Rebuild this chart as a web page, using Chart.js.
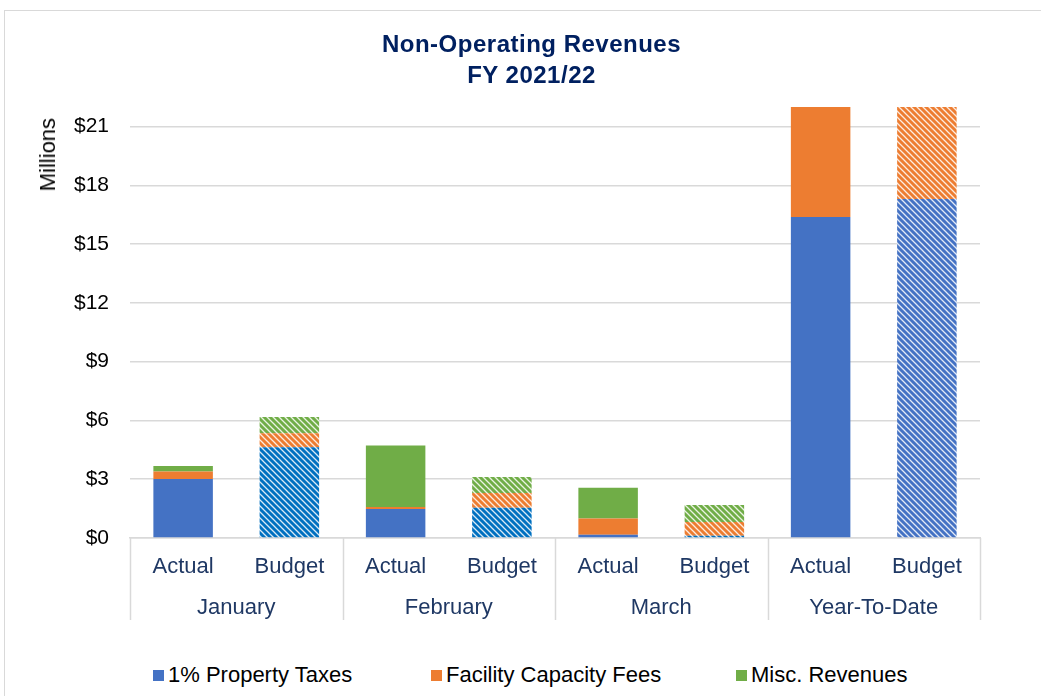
<!DOCTYPE html>
<html lang="en">
<head>
<meta charset="UTF-8">
<title>Non-Operating Revenues FY 2021/22</title>
<script src="https://cdn.jsdelivr.net/npm/chart.js@4"></script>
<style>
  * { box-sizing: border-box; margin: 0; padding: 0; }
  html, body { width: 1041px; height: 696px; overflow: hidden; background: #fff; font-family: 'Liberation Sans', Arial, sans-serif; }
  .frame { position: absolute; left: 4px; top: 10px; width: 1055px; height: 700px; border: 1px solid #d9d9d9; }
  .wrap { position: absolute; left: 0; top: 0; width: 1053px; height: 630px; }
  .title { position: absolute; left: 0; top: 17px; width: 1053px; text-align: center; color: #002060;
           font-weight: bold; font-size: 24px; line-height: 31px; letter-spacing: 0.5px; }
  .unit { position: absolute; left: 31px; top: 107px; width: 24px; line-height: 24px; font-size: 22px; color: #000;
          writing-mode: vertical-rl; transform: rotate(180deg); white-space: nowrap; }
  .legend { position: absolute; top: 653px; left: 0; width: 1053px; font-size: 22px; line-height: 22px; color: #000; }
  .legend span.item { position: absolute; top: 0; white-space: nowrap; }
  .legend i { display: inline-block; width: 11px; height: 11px; margin-right: 4px; vertical-align: 1px; }
</style>
</head>
<body>
<div class="frame">
  <div class="wrap"><canvas id="chart"></canvas></div>
  <div class="title">Non-Operating Revenues<br>FY 2021/22</div>
  <div class="unit">Millions</div>
  <div class="legend" id="legend"></div>
</div>
<script>
// ── Data (millions) ─────────────────────────────────────────────────────────
const barLabels = ['Actual', 'Budget', 'Actual', 'Budget', 'Actual', 'Budget', 'Actual', 'Budget'];
const groupLabels = ['January', 'February', 'March', 'Year-To-Date'];
const propertyTaxes = [3.01, 4.63, 1.48, 1.55, 0.17, 0.12, 16.39, 17.30];
const facilityFees = [0.38, 0.72, 0.10, 0.75, 0.82, 0.70, 6.50, 5.90];
const miscRevenues = [0.29, 0.83, 3.14, 0.82, 1.58, 0.87, 5.00, 2.50];
const yTicks = [0, 3, 6, 9, 12, 15, 18, 21];
const seriesNames = ['1% Property Taxes', 'Facility Capacity Fees', 'Misc. Revenues'];

const BLUE = '#4472c4', ORANGE = '#ed7d31', GREEN = '#70ad47', BUDGET_BLUE = '#0070c0';
const LABEL = '#1f3864', GRID = '#d9d9d9';
const FONT = '"Liberation Sans", Arial, sans-serif';

// diagonal white stripes for the budget bars
function stripes(color) {
  const c = document.createElement('canvas');
  c.width = 6; c.height = 6;
  const g = c.getContext('2d');
  g.fillStyle = color;
  g.fillRect(0, 0, 6, 6);
  g.strokeStyle = 'rgba(255,255,255,0.85)';
  g.lineWidth = 1.3;
  g.beginPath();
  g.moveTo(-1, -1); g.lineTo(7, 7);
  g.moveTo(-1, 5); g.lineTo(1, 7);
  g.moveTo(5, -1); g.lineTo(7, 1);
  g.stroke();
  return g.createPattern(c, 'repeat');
}

function fills(solid, budget, ytdBudget) {
  return barLabels.map((l, i) => {
    if (l === 'Actual') return solid;
    return i === barLabels.length - 1 ? stripes(ytdBudget) : stripes(budget);
  });
}

// month names + group separators below the axis
const groupAxis = {
  id: 'groupAxis',
  afterDraw(chart) {
    const { ctx, scales: { x }, chartArea } = chart;
    const half = (x.getPixelForValue(1) - x.getPixelForValue(0)) / 2;
    ctx.save();
    ctx.strokeStyle = GRID;
    ctx.lineWidth = 1.5;
    for (let g = 0; g <= groupLabels.length; g++) {
      const px = g < groupLabels.length ? x.getPixelForValue(g * 2) - half : x.getPixelForValue(g * 2 - 1) + half;
      ctx.beginPath();
      ctx.moveTo(Math.round(px) + 0.5, chartArea.bottom);
      ctx.lineTo(Math.round(px) + 0.5, chartArea.bottom + 82);
      ctx.stroke();
    }
    ctx.fillStyle = LABEL;
    ctx.font = '22px ' + FONT;
    ctx.textAlign = 'center';
    ctx.textBaseline = 'middle';
    groupLabels.forEach((name, g) => {
      const cx = (x.getPixelForValue(g * 2) + x.getPixelForValue(g * 2 + 1)) / 2;
      ctx.fillText(name, cx, chartArea.bottom + 70);
    });
    ctx.restore();
  }
};

new Chart(document.getElementById('chart'), {
  type: 'bar',
  data: {
    labels: barLabels,
    datasets: [
      { label: seriesNames[0], data: propertyTaxes, backgroundColor: fills(BLUE, BUDGET_BLUE, BLUE) },
      { label: seriesNames[1], data: facilityFees, backgroundColor: fills(ORANGE, ORANGE, ORANGE) },
      { label: seriesNames[2], data: miscRevenues, backgroundColor: fills(GREEN, GREEN, GREEN) }
    ]
  },
  options: {
    responsive: true,
    maintainAspectRatio: false,
    animation: false,
    layout: { padding: { left: 0, right: 78, top: 96, bottom: 0 } },
    datasets: { bar: { barPercentage: 0.56, categoryPercentage: 1, borderWidth: 0 } },
    plugins: {
      legend: { display: false },
      tooltip: { enabled: false },
      title: { display: false }
    },
    scales: {
      x: {
        stacked: true,
        grid: { display: false },
        border: { display: true, color: GRID, width: 1.5 },
        ticks: { color: LABEL, padding: 8, maxRotation: 0, font: { family: FONT, size: 22 } },
        afterFit(s) { s.height = 103; }
      },
      y: {
        stacked: true,
        min: 0,
        max: 22,
        afterBuildTicks(s) { s.ticks = yTicks.map(v => ({ value: v })); },
        grid: { color: GRID, lineWidth: 1.5, drawTicks: false },
        border: { display: false },
        ticks: {
          color: '#000',
          padding: 21,
          font: { family: FONT, size: 21 },
          callback: v => '$' + v
        },
        afterFit(s) { s.width = 125; }
      }
    }
  },
  plugins: [groupAxis]
});

// legend as real text
const legendColors = [BLUE, ORANGE, GREEN];
const legendLeft = [148, 426, 731];
document.getElementById('legend').innerHTML = seriesNames.map((n, i) =>
  `<span class="item" style="left:${legendLeft[i]}px"><i style="background:${legendColors[i]}"></i>${n}</span>`
).join('');
</script>
</body>
</html>
